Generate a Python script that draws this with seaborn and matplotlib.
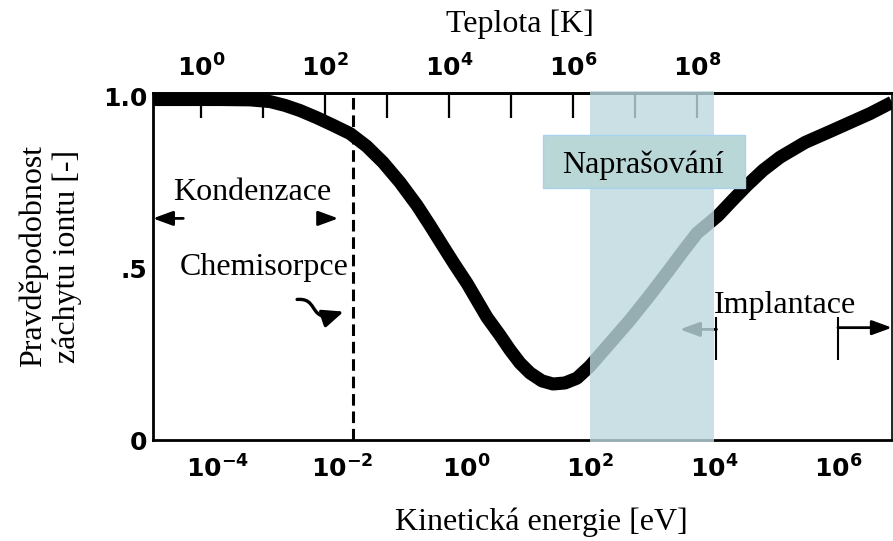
import numpy as np
import matplotlib
matplotlib.use("Agg")
import matplotlib.pyplot as plt
from matplotlib.ticker import FixedLocator, FuncFormatter, NullLocator
from matplotlib.patches import Rectangle, FancyArrowPatch
from matplotlib.path import Path
import seaborn as sns

# Ion capture probability versus kinetic energy
energy_ev = [8.95e-6, 1.08e-4, 3.28e-4, 6.9e-4, 1.2e-3, 2.1e-3, 3.95e-3, 7.2e-3,
             1.35e-2, 2.5e-2, 4.6e-2, 8.6e-2, 0.162, 0.262, 0.426, 0.665, 1.04,
             2.18, 3.53, 5.13, 7.43, 10.8, 16.8, 25.3, 39.5, 61.7, 100, 210,
             442, 929, 1750, 3160, 5320, 11600, 20200, 34000, 61700, 116000,
             294000, 743000, 1.56e6, 3.28e6, 7.43e6]
capture_prob = [0.991, 0.991, 0.990, 0.985, 0.974, 0.959, 0.938, 0.916, 0.892,
                0.855, 0.808, 0.750, 0.683, 0.625, 0.564, 0.509, 0.456, 0.357,
                0.305, 0.262, 0.224, 0.195, 0.172, 0.163, 0.166, 0.180, 0.215,
                0.282, 0.349, 0.422, 0.487, 0.549, 0.602, 0.653, 0.699, 0.741,
                0.785, 0.823, 0.866, 0.898, 0.924, 0.950, 0.983]

energy_ticks = [1e-4, 1e-3, 1e-2, 1e-1, 1e0, 1e1, 1e2, 1e3, 1e4, 1e5, 1e6]
temp_ticks = [1e0, 1e1, 1e2, 1e3, 1e4, 1e5, 1e6, 1e7, 1e8]
prob_ticks = [0, 0.25, 0.5, 0.75, 1.0]
prob_tick_labels = ["0", "", ".5", "", "1.0"]

sputter_range = (1e2, 1e4)          # Naprašování
chemisorption_limit = 0.015         # dashed boundary, eV
kelvin_per_ev = 10 ** 4.27          # temperature scale of the top axis

sns.set_style("white")
plt.rcParams["font.family"] = ["DejaVu Sans"]
plt.rcParams["mathtext.fontset"] = "dejavusans"
plt.rcParams["text.color"] = "black"
plt.rcParams["axes.labelcolor"] = "black"
SERIF = ["Liberation Serif", "DejaVu Serif"]
FS = 23

fig = plt.figure(figsize=(8.93, 5.41), dpi=100)
ax = fig.add_axes([153 / 893, 101 / 541, 739 / 893, 347 / 541])

sns.lineplot(x=energy_ev, y=capture_prob, ax=ax, color="black", linewidth=9.4,
             sort=False, zorder=2, solid_joinstyle="round", solid_capstyle="butt")

ax.set_xscale("log")
ax.set_xlim(energy_ev[0], energy_ev[-1])
ax.set_ylim(0, 1.01)


def pow_label(v, pos):
    e = int(round(np.log10(v)))
    return r"$\mathbf{10^{%d}}$" % e if e % 2 == 0 else ""


ax.xaxis.set_major_locator(FixedLocator(energy_ticks))
ax.xaxis.set_minor_locator(NullLocator())
ax.xaxis.set_major_formatter(FuncFormatter(pow_label))
ax.set_yticks(prob_ticks)
ax.set_yticklabels(prob_tick_labels, fontweight="bold")
ax.tick_params(axis="both", direction="in", length=18, width=1.6, colors="black",
               labelsize=18)
ax.tick_params(axis="x", pad=11)
ax.tick_params(axis="y", pad=4)
for s in ax.spines.values():
    s.set_linewidth(2)
    s.set_color("black")
ax.spines["right"].set_linewidth(1.2)

# Temperature axis on top
secax = ax.secondary_xaxis("top", functions=(lambda e: e * kelvin_per_ev,
                                              lambda t: t / kelvin_per_ev))
secax.xaxis.set_major_locator(FixedLocator(temp_ticks))
secax.xaxis.set_minor_locator(NullLocator())
secax.xaxis.set_major_formatter(FuncFormatter(pow_label))
secax.tick_params(axis="x", direction="in", length=18, width=1.6, labelsize=18,
                  pad=8, colors="black")
secax.spines["top"].set_linewidth(2)

# Axis titles
ax.set_xlabel("Kinetická energie [eV]", fontsize=FS, family=SERIF)
ax.xaxis.label.set_va("baseline")
ax.xaxis.set_label_coords(0.526, -0.259)
secax.set_xlabel("Teplota [K]", fontsize=FS, family=SERIF)
secax.xaxis.label.set_va("baseline")
secax.xaxis.set_label_coords(0.497, 1.176, transform=ax.transAxes)
ax.set_ylabel("Pravděpodobnost\nzáchytu iontu [-]", fontsize=FS, family=SERIF)
ax.yaxis.set_label_coords(-0.096, 0.53)

# Chemisorption boundary
ax.axvline(chemisorption_limit, color="black", lw=2.2, ls=(0, (3.8, 1.9)), zorder=2)

arrow_kw = dict(arrowstyle="-|>,head_length=0.6,head_width=0.22", color="black",
                lw=2, mutation_scale=20, shrinkA=0, shrinkB=0)

# Kondenzace
ax.text(10 ** -3.44, 0.698, "Kondenzace", fontsize=FS, family=SERIF,
        ha="center", va="baseline")
ax.annotate("", xy=(10 ** -5.05, 0.645), xytext=(10 ** -4.56, 0.645),
            arrowprops=arrow_kw, annotation_clip=False)
ax.annotate("", xy=(10 ** -2.06, 0.645), xytext=(10 ** -2.33, 0.645),
            arrowprops=arrow_kw)

# Chemisorpce with a wavy arrow
ax.text(10 ** -3.26, 0.48, "Chemisorpce", fontsize=FS, family=SERIF,
        ha="center", va="baseline")
wave = Path([(0.195, 0.405), (0.222, 0.41), (0.212, 0.355), (0.237, 0.355),
             (0.258, 0.37)],
            [Path.MOVETO, Path.CURVE4, Path.CURVE4, Path.CURVE4, Path.LINETO])
ax.add_patch(FancyArrowPatch(path=wave, transform=ax.transAxes,
                             arrowstyle="-|>,head_length=0.7,head_width=0.3",
                             mutation_scale=18, lw=2.4, color="black", zorder=2))

# Implantace
ax.text(10 ** 5.145, 0.369, "Implantace", fontsize=FS, family=SERIF,
        ha="center", va="baseline", zorder=5)
ax.annotate("", xy=(10 ** 3.45, 0.322), xytext=(10 ** 4.04, 0.322),
            arrowprops=arrow_kw)
ax.annotate("", xy=(10 ** 6.87, 0.327), xytext=(10 ** 6.0, 0.327),
            arrowprops=arrow_kw, annotation_clip=False)
ax.vlines([10 ** 4.04, 10 ** 6.0], 0.232, 0.357, color="black", lw=1.5, zorder=2)

# Naprašování band and its label box
ax.axvspan(*sputter_range, ymin=-0.006, ymax=1.006, color=(0.74, 0.85, 0.87),
           alpha=0.8, lw=0, zorder=3, clip_on=False)
ax.add_patch(Rectangle((10 ** 1.24, 0.733), 10 ** 4.5 - 10 ** 1.24, 0.154,
                       facecolor="#b9d7d7", edgecolor="#a9d1f0", lw=1, zorder=4))
ax.text(10 ** 2.847, 0.776, "Naprašování", fontsize=FS, family=SERIF,
        ha="center", va="baseline", zorder=5)

fig.savefig("out.png", dpi=100)
